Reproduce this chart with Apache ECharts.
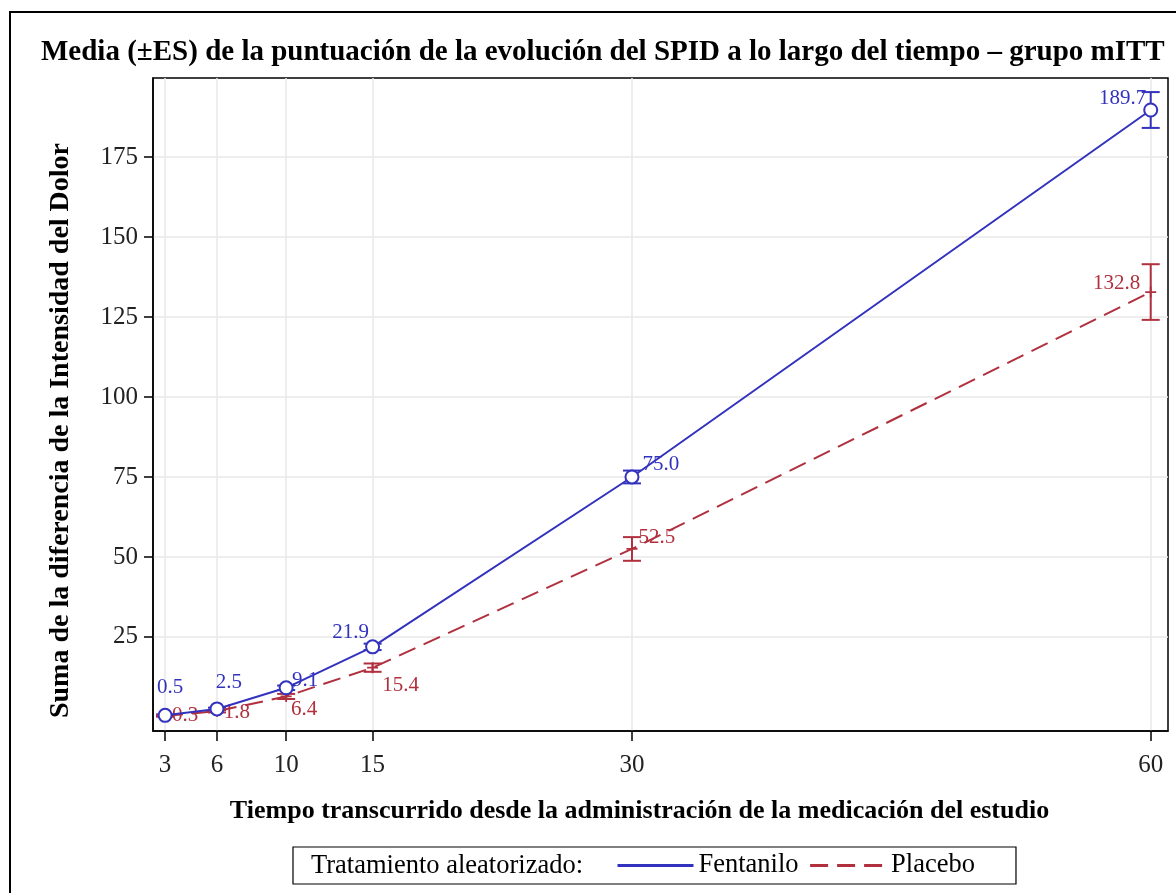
<!DOCTYPE html>
<html><head><meta charset="utf-8">
<script src="https://cdn.jsdelivr.net/npm/echarts@6/dist/echarts.min.js"></script>
<style>html,body{margin:0;padding:0;background:#fff}#c{width:1176px;height:893px}</style>
</head><body><div id="c"></div>
<script>
// ---- data ----
const times = [3, 6, 10, 15, 30, 60];
const fentMean = [0.5, 2.5, 9.1, 21.9, 75.0, 189.7];
const fentSE = [0.3, 0.4, 0.7, 1.0, 2.0, 5.6];
const placMean = [0.3, 1.8, 6.4, 15.4, 52.5, 132.8];
const placSE = [0.2, 0.4, 0.8, 1.3, 3.7, 8.7];
const yTicks = [25, 50, 75, 100, 125, 150, 175];
const xTicks = [3, 6, 10, 15, 30, 60];
const seriesNames = ['Fentanilo', 'Placebo'];

// ---- styling ----
const BLUE = '#3232BE', RED = '#B0303E';
const SERIF = '"Liberation Serif","DejaVu Serif",serif';
const fentLabelOffsets = [[5,-28],[12,-26],[19,-7],[-22,-14],[29,-12],[-28,-12]];
const placLabelOffsets = [[20,0],[20,1],[18,13],[28,18],[25,-11],[-34,-9]];

function pts(means, offs, color) {
  return times.map((t, i) => ({
    value: [t, means[i]],
    label: {show: true, position: 'inside', offset: offs[i], formatter: means[i].toFixed(1),
            color: color, fontFamily: SERIF, fontSize: 21}
  }));
}
function errData(means, se) { return times.map((t, i) => [t, means[i] - se[i], means[i] + se[i]]); }
function errSeries(name, means, se, color, cap) {
  return {
    type: 'custom', name: name + ' ES', data: errData(means, se), z: 3,
    renderItem: function (params, api) {
      const lo = api.coord([api.value(0), api.value(1)]);
      const hi = api.coord([api.value(0), api.value(2)]);
      const st = {stroke: color, lineWidth: 2, fill: null};
      return {type: 'group', children: [
        {type: 'line', shape: {x1: lo[0], y1: lo[1], x2: hi[0], y2: hi[1]}, style: st},
        {type: 'line', shape: {x1: lo[0]-cap, y1: lo[1], x2: lo[0]+cap, y2: lo[1]}, style: st},
        {type: 'line', shape: {x1: hi[0]-cap, y1: hi[1], x2: hi[0]+cap, y2: hi[1]}, style: st}
      ]};
    },
    encode: {x: 0, y: [1, 2]}, silent: true
  };
}

const chart = echarts.init(document.getElementById('c'), null, {renderer: 'canvas'});
chart.setOption({
  backgroundColor: '#fff',
  animation: false,
  title: {
    text: 'Media (±ES) de la puntuación de la evolución del SPID a lo largo del tiempo – grupo mITT',
    left: 36, top: 33,
    textStyle: {fontFamily: SERIF, fontWeight: 'bold', fontSize: 29, color: '#000'}
  },
  grid: {left: 153, right: 8, top: 78, bottom: 162, show: true, borderColor: '#000', borderWidth: 1.5},
  xAxis: {
    type: 'value', min: 2.3, max: 61.0,
    name: 'Tiempo transcurrido desde la administración de la medicación del estudio',
    nameLocation: 'middle', nameGap: 67,
    nameTextStyle: {fontFamily: SERIF, fontWeight: 'bold', fontSize: 26, color: '#000', padding: [0, 42, 0, 0]},
    axisLine: {onZero: false, lineStyle: {color: '#000', width: 1.5}},
    axisTick: {show: true, length: 10, lineStyle: {color: '#000', width: 1.5}, customValues: xTicks},
    axisLabel: {customValues: xTicks, fontFamily: SERIF, fontSize: 25, color: '#222', margin: 22},
    splitLine: {show: true, lineStyle: {color: '#e8e8e8', width: 1.5}}
  },
  yAxis: {
    type: 'value', min: -4.4, max: 199.7,
    name: 'Suma de la diferencia de la Intensidad del Dolor',
    nameLocation: 'middle', nameGap: 78,
    nameTextStyle: {fontFamily: SERIF, fontWeight: 'bold', fontSize: 28, color: '#000', padding: [0, 52, 0, 0]},
    axisLine: {show: true, onZero: false, lineStyle: {color: '#000', width: 1.5}},
    axisTick: {show: true, length: 9, lineStyle: {color: '#000', width: 1.5}, customValues: yTicks},
    axisLabel: {customValues: yTicks, fontFamily: SERIF, fontSize: 25, color: '#222', margin: 15},
    splitLine: {show: true, lineStyle: {color: '#e8e8e8', width: 1.5}}
  },
  legend: {
    data: seriesNames, left: 293, top: 847,
    padding: [5, 41, 5, 323], borderColor: '#000', borderWidth: 1.2,
    itemWidth: 76, itemHeight: 14, itemGap: 10,
    itemStyle: {opacity: 0}, lineStyle: {width: 3},
    textStyle: {fontFamily: SERIF, fontSize: 26.5, color: '#000'}
  },
  graphic: [
    {type: 'rect', shape: {x: 10, y: 12, width: 1190, height: 900}, style: {fill: null, stroke: '#000', lineWidth: 2}, z: -10, silent: true},
    {type: 'text', x: 311, y: 866, style: {text: 'Tratamiento aleatorizado:', fontFamily: SERIF, fontSize: 26.5, fill: '#000', textVerticalAlign: 'middle'}, z: 100}
  ],
  series: [
    {
      name: seriesNames[0], type: 'line', data: pts(fentMean, fentLabelOffsets, BLUE),
      symbol: 'emptyCircle', symbolSize: 13, showSymbol: true, z: 5,
      lineStyle: {color: BLUE, width: 2}, itemStyle: {color: BLUE, borderWidth: 2}
    },
    {
      name: seriesNames[1], type: 'line', data: pts(placMean, placLabelOffsets, RED),
      symbol: 'path://M4.2,0H5.8V10H4.2Z M0,4.2H10V5.8H0Z', symbolSize: 11, z: 4,
      lineStyle: {color: RED, width: 2, type: [18, 9]}, itemStyle: {color: RED}
    },
    errSeries('F', fentMean, fentSE, BLUE, 9),
    errSeries('P', placMean, placSE, RED, 9)
  ]
});
</script></body></html>
